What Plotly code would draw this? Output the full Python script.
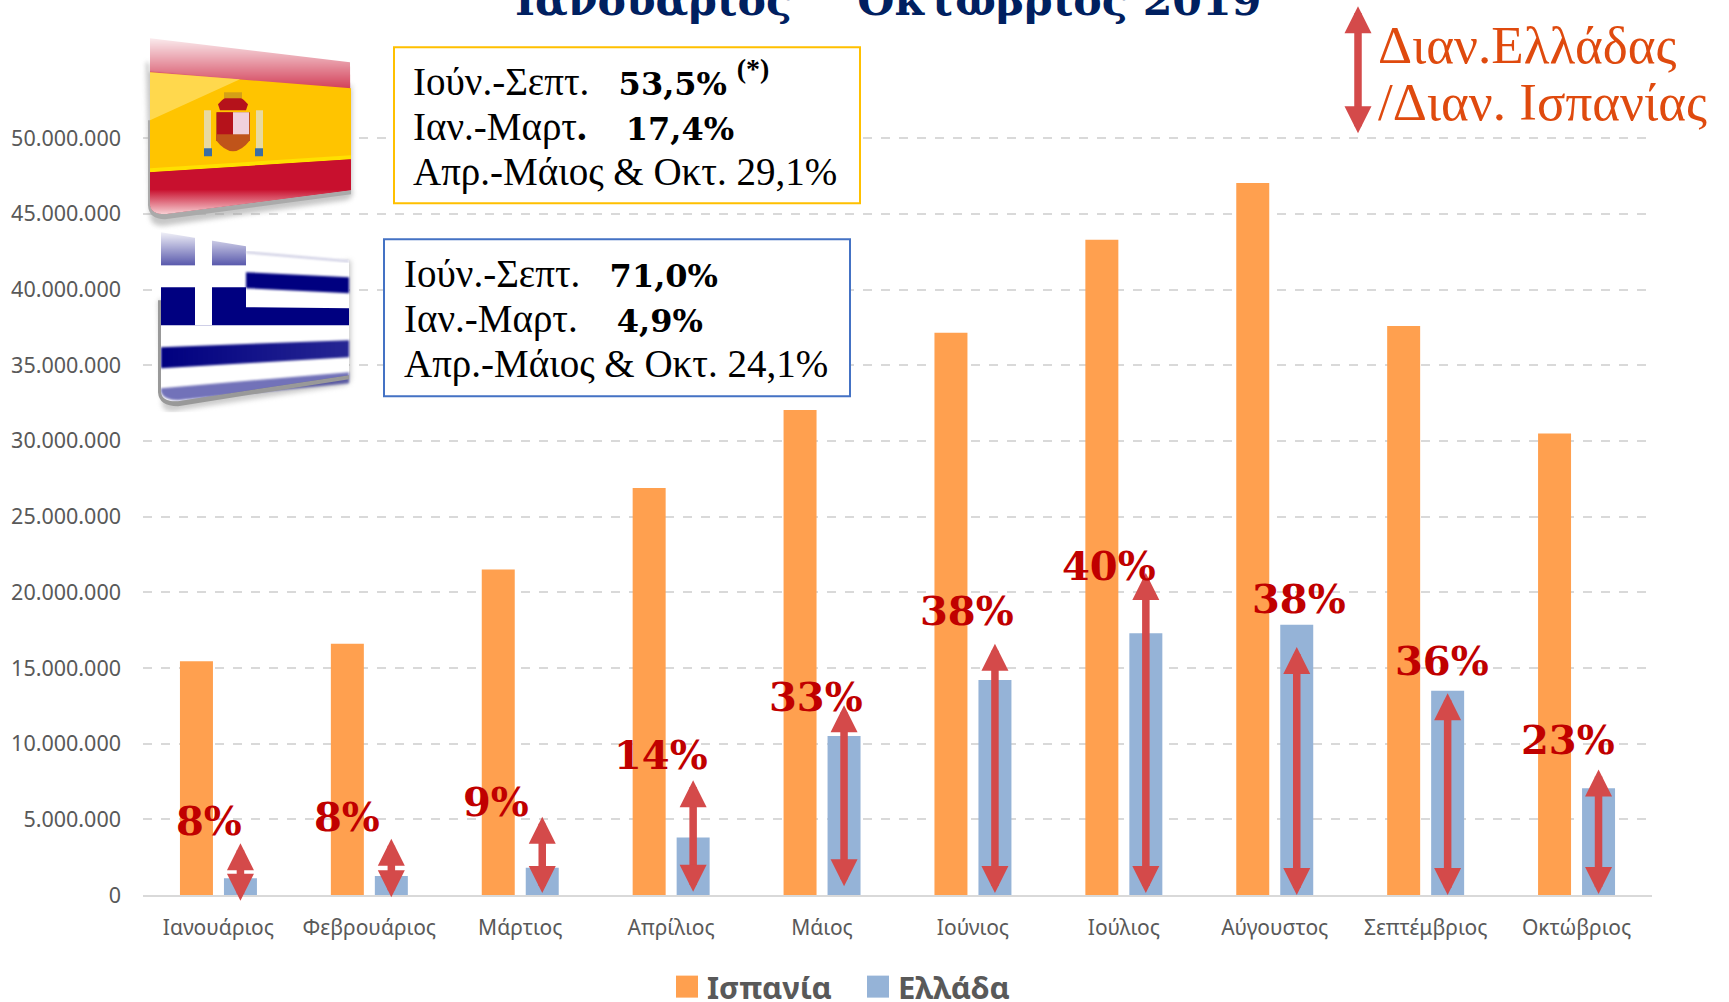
import base64
import plotly.graph_objects as go

months = ["Ιανουάριος", "Φεβρουάριος", "Μάρτιος", "Απρίλιος", "Μάιος", "Ιούνιος", "Ιούλιος", "Αύγουστος", "Σεπτέμβριος", "Οκτώβριος"]
spain = [15440000, 16600000, 21500000, 26900000, 32050000, 37150000, 43300000, 47050000, 37600000, 30500000]
greece = [1100000, 1250000, 1800000, 3800000, 10500000, 14200000, 17300000, 17850000, 13500000, 7050000]
pct_labels = ["8%", "8%", "9%", "14%", "33%", "38%", "40%", "38%", "36%", "23%"]
arrow_top = [3420000, 3710000, 5170000, 7580000, 12530000, 16600000, 21270000, 16390000, 13330000, 8300000]
arrow_bottom = [-440000, -220000, 70000, 150000, 510000, 70000, 70000, -70000, -70000, 0]
# label placement (category units, value units)
label_x = [-0.06, 0.85, 1.84, 2.93, 3.96, 4.96, 5.90, 7.16, 8.11, 8.94]
label_y = [4900000, 5200000, 6150000, 9300000, 13100000, 18800000, 21800000, 19600000, 15500000, 10250000]

BF = "<span style='font-family:DejaVu Serif;font-size:32px'><b>{}</b></span>"
box_spain = ["Ιούν.-Σεπτ.\u00a0\u00a0\u00a0" + BF.format("53,5%") + " <span style='font-size:40px'><b><sup>(*)</sup></b></span>",
             "Ιαν.-Μαρτ<b>.</b>\u00a0\u00a0\u00a0\u00a0" + BF.format("17,4%"), "Απρ.-Μάιος &amp; Οκτ. 29,1%"]
box_greece = ["Ιούν.-Σεπτ.\u00a0\u00a0\u00a0" + BF.format("71,0%"), "Ιαν.-Μαρτ.\u00a0\u00a0\u00a0\u00a0" + BF.format("4,9%"), "Απρ.-Μάιος &amp; Οκτ. 24,1%"]
title_text = "Ιανουάριος\u00a0<sup>\u00a0–\u00a0</sup>\u00a0Οκτώβριος 2019"
note_lines = ["Διαν.Ελλάδας", "/Διαν. Ισπανίας"]

W, H = 1729, 1002
L, R, T, B = 143, 1652, 107.72, 895
bargap = 0.417
groupgap = 0.25
off = (1 - bargap) / 4
ARROW = "#D44A4A"
SERIF = "Liberation Serif"
BOLD = "DejaVu Serif"


def px(x):
    return (x - L) / (R - L)


def py(y):
    return (B - y) / (B - T)


def uri(svg):
    return "data:image/svg+xml;base64," + base64.b64encode(svg.encode()).decode()


spain_svg = f"""<svg xmlns='http://www.w3.org/2000/svg' width='240' height='210' viewBox='130 20 240 210'>
<defs>
<linearGradient id='g' x1='0' y1='0' x2='0' y2='1'><stop offset='0' stop-color='#fff' stop-opacity='1'/><stop offset='.35' stop-color='#fff' stop-opacity='.7'/><stop offset='1' stop-color='#fff' stop-opacity='.15'/></linearGradient>
<linearGradient id='f' x1='0' y1='0' x2='0' y2='1'><stop offset='0' stop-color='#C8102E'/><stop offset='.55' stop-color='#C8102E'/><stop offset='1' stop-color='#F8D0D4'/></linearGradient>
<filter id='b'><feGaussianBlur stdDeviation='2.5'/></filter>
<filter id='s'><feGaussianBlur stdDeviation='1'/></filter>
</defs>
<path d='M146 62 L150 217 Q152 228 168 225 L346 200 Q355 197 352 190 L352 85 Z' fill='#999' opacity='.55' filter='url(#b)'/>
<path d='M150 38 L350 62 L351 190 L165 214 Q151 214 150 205 Z' fill='#C8102E'/>
<path d='M148 32 L354 56 L354 92 L148 72 Z' fill='url(#g)' filter='url(#s)'/>
<path d='M150 72 L351 88 L351 159 L150 172 Z' fill='#FFC400'/>
<path d='M150 72 L240 79 L150 120 Z' fill='#FFE680' opacity='.6'/>
<path d='M150 172 L351 159 L351 155 L150 168 Z' fill='#FFE000'/>
<path d='M150 172 L351 159 L351 190 L165 214 Q151 214 150 205 Z' fill='url(#f)'/>
<path d='M150 205 Q151 214 165 214 L351 190 L351 194 L165 219 Q149 219 148 205 L148 120 L150 120 Z' fill='#AAA'/>
<rect x='204' y='110' width='7' height='40' fill='#E8D9A0'/><rect x='256' y='110' width='7' height='40' fill='#E8D9A0'/>
<rect x='204' y='148' width='8' height='8' fill='#3A6EA5'/><rect x='255' y='148' width='8' height='8' fill='#3A6EA5'/>
<path d='M216 112 H250 V140 Q233 162 216 140 Z' fill='#C0541A'/>
<rect x='217' y='112' width='16' height='22' fill='#B5121B'/><rect x='233' y='112' width='16' height='22' fill='#F0D0DC'/>
<path d='M218 104 Q233 86 248 104 L246 110 H220 Z' fill='#B5121B'/>
<rect x='224' y='92' width='18' height='6' fill='#D4A017'/>
</svg>"""

greek_svg = f"""<svg xmlns='http://www.w3.org/2000/svg' width='220' height='190' viewBox='150 222 220 190'>
<defs>
<linearGradient id='g' x1='0' y1='0' x2='0' y2='1'><stop offset='0' stop-color='#fff' stop-opacity='.98'/><stop offset='1' stop-color='#fff' stop-opacity='.35'/></linearGradient>
<linearGradient id='h' x1='0' y1='0' x2='1' y2='0'><stop offset='0' stop-color='#000080' stop-opacity='1'/><stop offset='1' stop-color='#000080' stop-opacity='.85'/></linearGradient>
<filter id='b'><feGaussianBlur stdDeviation='2.5'/></filter>
<filter id='s'><feGaussianBlur stdDeviation='.8'/></filter>
</defs>
<path d='M158 300 L162 405 Q165 414 180 410 L346 385 Q352 382 351 375 L351 260 Z' fill='#999' opacity='.5' filter='url(#b)'/>
<path d='M161 232 L349 260 L349 375 L178 401 Q162 402 161 392 Z' fill='#fff'/>
<path d='M161 232 L246 246 L246 325 L161 325 Z' fill='#000080'/>
<path d='M195 228 H212 V325 H195 Z' fill='#fff'/>
<path d='M161 265 H246 V287 H161 Z' fill='#fff'/>
<path d='M161 230 L246 244 L246 265 L161 265 Z' fill='url(#g)'/>
<path d='M195 228 H212 V265 H195 Z' fill='#fff'/>
<path d='M246 252 L349 261' stroke='#C8C8E0' stroke-width='2' fill='none' filter='url(#s)'/>
<path d='M246 272 L349 277 V293 L246 288 Z' fill='#000080' filter='url(#s)'/>
<path d='M246 307 L349 308 V325 H161 V325 H246 Z' fill='#000080'/>
<path d='M161 347 L349 340 V357 L161 368 Z' fill='url(#h)' filter='url(#s)'/>
<path d='M161 388 L349 372 V383 L178 400 Q164 400 161 392 Z' fill='#000080' opacity='.55' filter='url(#s)'/>
<path d='M161 392 Q162 402 178 401 L349 375 L349 379 L178 406 Q159 406 158 392 L158 300 L161 300 Z' fill='#999'/>
</svg>"""

fig = go.Figure()
fig.add_bar(name="Ισπανία", x=months, y=spain, marker_color="#FFA04F", marker_line_width=0)
fig.add_bar(name="Ελλάδα", x=months, y=greece, marker_color="#95B3D7", marker_line_width=0)

ARROW_STYLE = dict(text=" ", font=dict(size=1), borderpad=0, showarrow=True, arrowhead=2, startarrowhead=2, arrowside="end+start",
                   arrowsize=0.72, startarrowsize=0.72, arrowwidth=7.5, arrowcolor=ARROW, standoff=0, startstandoff=0)
ann = []
# double-headed arrows on the Greek bars
for i in range(len(months)):
    ann.append(dict(x=i + off, y=arrow_top[i], ax=i + off, ay=arrow_bottom[i], xref="x", yref="y", axref="x", ayref="y", **ARROW_STYLE))
    ann.append(dict(x=label_x[i], y=label_y[i], xref="x", yref="y", text=f"<b>{pct_labels[i]}</b>", showarrow=False,
                    font=dict(family=BOLD, size=40, color="#C00000")))

ann.append(dict(x=px(888), y=py(-3), xref="paper", yref="paper", text=f"<b>{title_text}</b>", showarrow=False, yanchor="middle",
                font=dict(family=BOLD, size=42.7, color="#002060")))

for j, line in enumerate(box_spain):
    ann.append(dict(x=px(411), y=py((78 if j == 0 else 81.5) + j * 45), xref="paper", yref="paper", xanchor="left", yanchor="middle", text=line,
                    showarrow=False, font=dict(family=SERIF, size=39, color="#000000")))
for j, line in enumerate(box_greece):
    ann.append(dict(x=px(402), y=py(273.5 + j * 45), xref="paper", yref="paper", xanchor="left", yanchor="middle", text=line, showarrow=False,
                    font=dict(family=SERIF, size=39, color="#000000")))
for j, line in enumerate(note_lines):
    ann.append(dict(x=px(1376), y=py(45 + j * 57), xref="paper", yref="paper", xanchor="left", yanchor="middle", text=line, showarrow=False,
                    font=dict(family=SERIF, size=53, color="#DF4A0E")))
ann.append(dict(x=px(1358), y=py(6), ax=0, ay=128, xref="paper", yref="paper", axref="pixel", ayref="pixel", **ARROW_STYLE))

shapes = [
    dict(type="rect", xref="paper", yref="paper", x0=px(394), x1=px(860), y0=py(47), y1=py(203), layer="above",
         fillcolor="rgba(255,255,255,1)", line=dict(color="#FFC000", width=2)),
    dict(type="rect", xref="paper", yref="paper", x0=px(384), x1=px(850), y0=py(239), y1=py(396), layer="above",
         fillcolor="rgba(255,255,255,1)", line=dict(color="#4472C4", width=2)),
]

images = [
    dict(source=uri(spain_svg), xref="paper", yref="paper", x=px(130), y=py(20), sizex=240 / (R - L), sizey=210 / (B - T),
         xanchor="left", yanchor="top", sizing="stretch", layer="above"),
    dict(source=uri(greek_svg), xref="paper", yref="paper", x=px(150), y=py(222), sizex=220 / (R - L), sizey=190 / (B - T),
         xanchor="left", yanchor="top", sizing="stretch", layer="above"),
]

fig.update_layout(
    width=W, height=H, margin=dict(l=L, r=W - R, t=T, b=H - B, autoexpand=False), paper_bgcolor="#FFFFFF", plot_bgcolor="#FFFFFF",
    barmode="group", bargap=bargap, bargroupgap=groupgap, separators=",.",
    annotations=ann, shapes=shapes, images=images,
    font=dict(family="Noto Sans", color="#595959"),
    legend=dict(orientation="h", x=px(667), y=py(987), xanchor="left", yanchor="middle", traceorder="normal",
                font=dict(family="Noto Sans", size=31, color="#595959", weight=700), itemwidth=30, entrywidth=146, entrywidthmode="pixels",
                bgcolor="rgba(0,0,0,0)"),
    showlegend=True,
    xaxis=dict(type="category", showgrid=False, showline=True, linecolor="#D9D9D9", linewidth=2, ticks="",
               tickfont=dict(family="Noto Sans", size=21, color="#595959"), ticklabelstandoff=13),
    yaxis=dict(range=[0, 52000000], dtick=5000000, tickformat=",d", showgrid=True, gridcolor="#D9D9D9", griddash="dash", gridwidth=1.5,
               zeroline=False, showline=False, ticks="", tickfont=dict(family="Noto Sans", size=21.5, color="#595959"), ticklabelstandoff=21),
)

fig.write_html("out.html", config=dict(displayModeBar=False),
               post_script="document.body.style.margin='0';document.body.style.overflow='hidden';"
               "function bigSwatch(){document.querySelectorAll('.legendpoints path').forEach(function(p){p.setAttribute('d','M11,11H-11V-11H11Z');});}"
               "bigSwatch();setTimeout(bigSwatch,50);setTimeout(bigSwatch,300);")
